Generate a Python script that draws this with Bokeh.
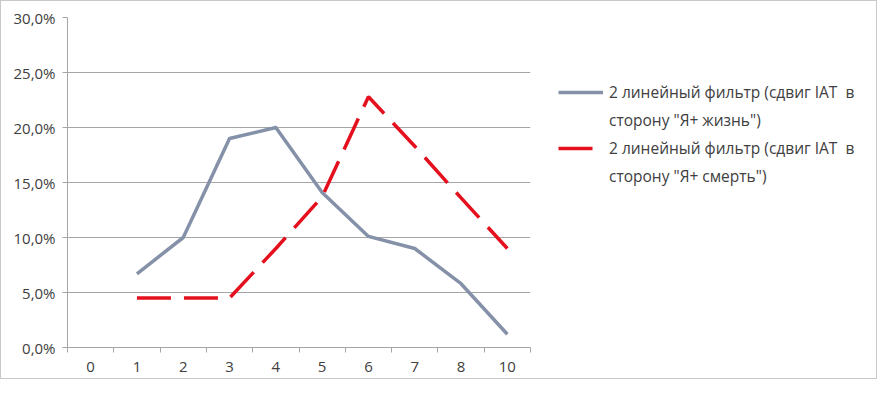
from bokeh.plotting import figure
from bokeh.models import FixedTicker, Legend, LegendItem, Range1d
from bokeh.embed import file_html
from bokeh.resources import INLINE

categories = ["0", "1", "2", "3", "4", "5", "6", "7", "8", "10"]
life_shift = [None, 6.7, 10.0, 19.0, 20.0, 14.1, 10.1, 9.0, 5.8, 1.2]
death_shift = [None, 4.5, 4.5, 4.5, 9.0, 13.7, 22.8, 18.3, 13.6, 9.0]
y_ticks = [0, 5, 10, 15, 20, 25, 30]
y_tick_labels = ["0,0%", "5,0%", "10,0%", "15,0%", "20,0%", "25,0%", "30,0%"]
# legend names, as wrapped onto two lines in the original
life_name = ["2 линейный фильтр (сдвиг IAT  в", "сторону \"Я+ жизнь\")"]
death_name = ["2 линейный фильтр (сдвиг IAT  в", "сторону \"Я+ смерть\")"]

FONT = "Open Sans"
TXT = "#404040"

xs = list(range(len(categories)))

p = figure(frame_width=463, frame_height=330, output_backend="svg", toolbar_location=None,
           x_range=Range1d(-0.5, len(categories) - 0.5), y_range=Range1d(0, 30),
           min_border_left=66, min_border_top=16, min_border_right=0, min_border_bottom=31)
p.outline_line_color = None
p.background_fill_color = "white"
p.border_fill_color = "white"
p.styles = {"border": "1px solid #c8c8c8", "box-sizing": "border-box",
            "max-width": "877px", "overflow": "hidden"}

# grid
p.xgrid.grid_line_color = None
p.ygrid.ticker = FixedTicker(ticks=y_ticks)
p.ygrid.grid_line_color = "#a6a6a6"
p.ygrid.grid_line_width = 1

# y axis
p.yaxis.ticker = FixedTicker(ticks=y_ticks)
p.yaxis.major_label_overrides = {t: l for t, l in zip(y_ticks, y_tick_labels)}
p.yaxis.axis_line_color = "#a6a6a6"
p.yaxis.major_tick_line_color = "#a6a6a6"
p.yaxis.major_tick_out = 5
p.yaxis.major_tick_in = 0
p.yaxis.minor_tick_line_color = None
p.yaxis.major_label_text_font = FONT
p.yaxis.major_label_text_font_size = "15px"
p.yaxis.major_label_text_color = TXT
p.yaxis.major_label_standoff = 7

# x axis: labels at category centres, ticks at boundaries
bounds = [i - 0.5 for i in range(len(categories) + 1)]
p.xaxis.ticker = FixedTicker(ticks=xs, minor_ticks=bounds)
p.xaxis.major_label_overrides = {i: c for i, c in zip(xs, categories)}
p.xaxis.axis_line_color = "#a6a6a6"
p.xaxis.major_tick_line_color = None
p.xaxis.major_tick_out = 0
p.xaxis.major_tick_in = 0
p.xaxis.minor_tick_line_color = "#a6a6a6"
p.xaxis.minor_tick_out = 5
p.xaxis.minor_tick_in = 0
p.xaxis.major_label_text_font = FONT
p.xaxis.major_label_text_font_size = "15px"
p.xaxis.major_label_text_color = TXT
p.xaxis.major_label_standoff = 9

x1 = [x for x, v in zip(xs, life_shift) if v is not None]
y1 = [v for v in life_shift if v is not None]
x2 = [x for x, v in zip(xs, death_shift) if v is not None]
y2 = [v for v in death_shift if v is not None]

r1 = p.line(x1, y1, line_color="#8591A8", line_width=3.5, line_join="round")
r2 = p.line(x2, y2, line_color="#E5101E", line_width=3.5, line_dash="34 13")

legend = Legend(items=[LegendItem(label=life_name[0], renderers=[r1]),
                       LegendItem(label=life_name[1], renderers=[]),
                       LegendItem(label=death_name[0], renderers=[r2]),
                       LegendItem(label=death_name[1], renderers=[])],
                location=(28, 160))
legend.border_line_color = None
legend.background_fill_alpha = 0
legend.label_text_font = FONT
legend.label_text_font_size = "15.5px"
legend.label_text_color = TXT
legend.label_height = 20
legend.glyph_height = 20
legend.glyph_width = 45
legend.label_standoff = 6
legend.spacing = 6
legend.padding = 0
legend.margin = 0
p.add_layout(legend, "right")

open("out.html", "w").write(file_html(p, INLINE))
